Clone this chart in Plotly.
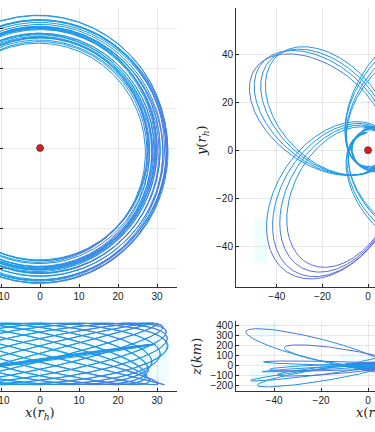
import numpy as np
import plotly.graph_objects as go

W, H = 375, 432

# ---------------- data ----------------
# near-circular orbit (left panels): one entry per loop
ring_zphase = [0, 15, 30, 45, 60, 75, 90, 105, 120, 135, 150, 165,
               180, 195, 210, 225, 240, 255, 270, 285, 300, 315, 330, 345,
               88, 92, 96]
ring_radius = [30.8, 32.9, 33.1, 32.6, 31.5, 30.2, 29.5, 30.2, 31.5, 32.6, 33.1, 32.9,
               30.8, 29.0, 27.8, 27.4, 28.3, 30.5, 32.0, 30.5, 28.3, 27.4, 27.8, 29.0,
               29.2, 29.6, 30.0]
ring_cx     = [0.0, -0.3, -0.5, -0.2, 0.0, -0.4, -0.6, -0.2, 0.0, -0.3, -0.5, -0.1,
               0.0, -0.4, -0.2, 0.0, -0.3, -0.5, -0.1, 0.0, -0.2, -0.4, 0.0, -0.3,
               0.0, -0.2, -0.4]
ring_cy     = [-0.4, -0.8, 0.0, -1.2, -0.6, 0.2, -1.0, -0.3, -1.4, -0.7, 0.1, -0.9,
               -0.5, -1.1, -0.2, -0.8, -1.3, -0.4, 0.0, -0.9, -0.6, -1.2, -0.3, -0.7,
               -0.5, -0.9, -0.2]
ring_zamp   = [88, 88, 88, 88, 88, 88, 88, 88, 88, 88, 88, 88,
               88, 88, 88, 88, 88, 88, 88, 88, 88, 88, 88, 88,
               46, 45, 47]
ring_zoff   = [0, 0, 0, 0, 0, 0, 0, 0, 0, 0, 0, 0,
               0, 0, 0, 0, 0, 0, 0, 0, 0, 0, 0, 0,
               -18, -17, -19]

# eccentric precessing orbit (right panels): one entry per radial period
orbit_apo_dir = [146, 240, 325, 55, 143, 238, 322, 52, 140, 236, 319, 49, 137, 234, 316, 46]
orbit_r_apo   = [60, 54, 59, 60, 59, 57, 58, 59, 57, 60, 57, 58, 56, 62, 56, 57]
orbit_r_peri  = [7.0, 8.5, 7.2, 6.8, 7.3, 9.0, 7.0, 7.1, 7.6, 9.5, 7.4, 7.0, 7.9, 10.0, 7.5, 7.2]
orbit_z_apo   = [360, 200, 120, -80, -160, -110, 60, -150, -220, -60, 200, -50, -70, 40, -100, 90]
orbit_z_side  = [-110, -40, 30, -20, -30, 30, -10, 20, 10, -20, 30, -10, -20, 10, 20, -30]

center_x = [0]
center_y = [0]

left_xticks = [-10, 0, 10, 20, 30]
left_yticks = [-30, -20, -10, 0, 10, 20, 30]
right_xticks = [-40, -20, 0]
right_yticks = [-40, -20, 0, 20, 40]
z_ticks = [-200, -100, 0, 100, 200, 300, 400]

# ---------------- helpers ----------------
BLUE = np.array([28, 152, 232])
PURPLE = np.array([105, 100, 222])
NB = 7
bin_colors = [tuple((BLUE + (PURPLE - BLUE) * i / (NB - 1)).astype(int)) for i in range(NB)]


def ring_curves():
    out = []
    phi = np.linspace(0, 2 * np.pi, 500)
    for R, cx, cy, A, ps, z0 in zip(ring_radius, ring_cx, ring_cy, ring_zamp, ring_zphase, ring_zoff):
        x = cx + R * np.cos(phi)
        y = cy + R * np.sin(phi)
        z = z0 + A * np.sin(phi + np.radians(ps))
        ang = np.arctan2(y, x)
        mix = 0.65 * np.clip(np.cos(ang + np.radians(55)), 0, 1) ** 8 * (np.abs(z) / 88)
        mix = np.maximum(mix, 0.75 * np.clip((x - 22) / 10, 0, 1) * (np.abs(z) / 88))
        out.append((x, y, z, mix))
    return out


def orbit_curves():
    out = []
    for th, ra, rp, za, zs in zip(orbit_apo_dir, orbit_r_apo, orbit_r_peri, orbit_z_apo, orbit_z_side):
        e = (ra - rp) / (ra + rp)
        p = 2 * ra * rp / (ra + rp)
        f = np.radians(np.linspace(-180, 180, 800))          # anomaly measured from apocentre
        r = p / (1 - e * np.cos(f))
        extra = np.radians(45) * np.sign(f) * (np.abs(f) / np.pi) ** 6   # periapsis precession
        phi = np.radians(th) + f + extra
        x = r * np.cos(phi)
        y = r * np.sin(phi)
        z = za * (r / ra) * np.cos(f) + zs * (r / ra) * np.sin(f)
        mix = np.maximum(np.clip((-y - 22) / 18, 0, 1) * 0.9,
                         np.clip((np.abs(z) - 120) / 250, 0, 1) * 0.8)
        out.append((x, y, z, mix))
    return out


def binned_traces(curves, use_z, xa, ya):
    xs = [[] for _ in range(NB)]
    ys = [[] for _ in range(NB)]
    for x, y, z, mix in curves:
        v = z if use_z else y
        b = np.clip(np.round(mix * (NB - 1)).astype(int), 0, NB - 1)
        segb = b[:-1]
        start = 0
        n = len(x)
        for i in range(1, n):
            if i == n - 1 or segb[i] != segb[start]:
                end = i
                bi = segb[start]
                xs[bi].extend(list(x[start:end + 1]) + [None])
                ys[bi].extend(list(v[start:end + 1]) + [None])
                start = i
    traces = []
    for i in range(NB):
        if xs[i]:
            c = bin_colors[i]
            traces.append(go.Scatter(x=xs[i], y=ys[i], mode="lines",
                                     line=dict(color=f"rgb({c[0]},{c[1]},{c[2]})", width=1),
                                     xaxis=xa, yaxis=ya, hoverinfo="skip", showlegend=False))
    return traces


rings = ring_curves()
orbits = orbit_curves()

fig = go.Figure()
for t in binned_traces(rings, False, "x", "y"):
    fig.add_trace(t)
for t in binned_traces(orbits, False, "x2", "y2"):
    fig.add_trace(t)
for t in binned_traces(rings, True, "x3", "y3"):
    fig.add_trace(t)
for t in binned_traces(orbits, True, "x4", "y4"):
    fig.add_trace(t)

for xa, ya in [("x", "y"), ("x2", "y2")]:
    fig.add_trace(go.Scatter(x=center_x, y=center_y, mode="markers",
                             marker=dict(size=7, color="#e0191b", line=dict(color="#3a3a3a", width=0.7)),
                             xaxis=xa, yaxis=ya, hoverinfo="skip", showlegend=False))


def px(v):
    return v / W


def py(v):
    return (H - v) / H


tickfont = dict(family="Liberation Sans, Arial, sans-serif", size=10, color="#222")
common = dict(showgrid=True, gridcolor="rgba(0,0,0,0.09)", gridwidth=1, zeroline=False,
              ticks="inside", ticklen=3, tickcolor="#222", linecolor="#333", linewidth=1,
              tickfont=tickfont, ticklabeloverflow="allow", automargin=False)

top_dom = [py(287), py(8)]
bot_dom = [py(391), py(321)]
left_dom = [0, px(177)]
right_dom = [px(236), 1]

fig.update_layout(
    width=W, height=H, margin=dict(l=0, r=0, t=0, b=0, autoexpand=False),
    paper_bgcolor="white", plot_bgcolor="white", showlegend=False,
    xaxis=dict(domain=left_dom, range=[-10.26, 35.1], tickvals=left_xticks, showline=True,
               anchor="y", **common),
    yaxis=dict(domain=top_dom, range=[-34.75, 35], tickvals=left_yticks, showline=False,
               showticklabels=False, anchor="x", **common),
    xaxis2=dict(domain=right_dom, range=[-57.9, 3.07], tickvals=right_xticks, showline=True,
                anchor="y2", **common),
    yaxis2=dict(domain=top_dom, range=[-57, 59.2], tickvals=right_yticks, showline=True,
                anchor="x2", **common),
    xaxis3=dict(domain=left_dom, range=[-10.26, 35.1], tickvals=left_xticks, showline=True,
                anchor="y3", **common),
    yaxis3=dict(domain=bot_dom, range=[-106, 94], showline=False, showgrid=False,
                showticklabels=False, anchor="x3", zeroline=False, automargin=False),
    xaxis4=dict(domain=right_dom, range=[-56.2, 2.98], tickvals=right_xticks, showline=True,
                anchor="y4", **common),
    yaxis4=dict(domain=bot_dom, range=[-260, 440], tickvals=z_ticks, showline=True,
                anchor="x4", **common),
)

# faint cyan background patches seen behind the curves
for xr, yr, x0, x1, y0, y1 in [("x3", "y3", -10.3, 33, -90, 92),
                               ("x", "y", -10.3, 8, -33, -27),
                               ("x4", "y4", -48, -38, 280, 420),
                               ("x4", "y4", -50, -40, -200, -50),
                               ("x4", "y4", -12, 3, -60, 120),
                               ("x2", "y2", -50, -44, -47, -28)]:
    fig.add_shape(type="rect", xref=xr, yref=yr, x0=x0, x1=x1, y0=y0, y1=y1,
                  fillcolor="rgba(205,248,255,0.3)", line=dict(width=0), layer="below")

labfont = dict(family="DejaVu Serif, Liberation Serif, serif", size=13, color="#222")
xlab = "<i>x</i>(<i>r</i><sub><i>h</i></sub>)"
ylab = "<i>y</i>(<i>r</i><sub><i>h</i></sub>)"
zlab = "<i>z</i>(<i>km</i>)"
for txt, x, y, ang in [(ylab, 202, 140, -90), (zlab, 196, 357, -90), (xlab, 40, 413, 0), (xlab, 371, 413, 0)]:
    fig.add_annotation(text=txt, x=px(x), y=py(y), xref="paper", yref="paper",
                       showarrow=False, textangle=ang, font=labfont,
                       xanchor="center", yanchor="middle")

fig.write_html("out.html", config={"displayModeBar": False},
               post_script="document.body.style.margin='0px';")
